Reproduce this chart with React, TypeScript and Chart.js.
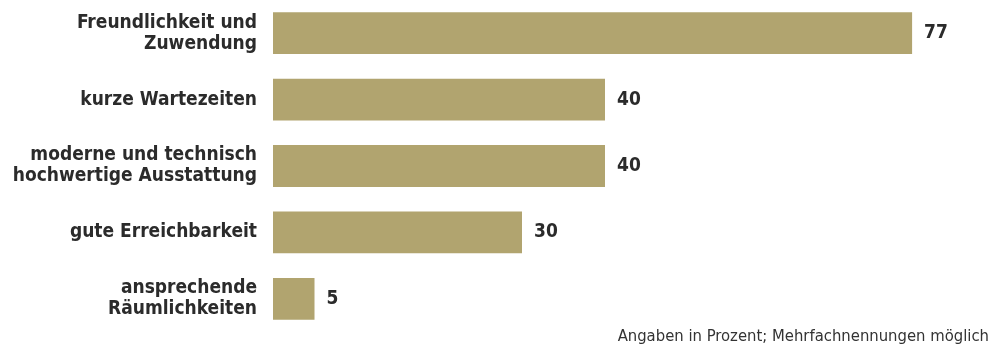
import React, { useEffect, useRef } from "react";
import { Chart, registerables } from "chart.js";

Chart.register(...registerables);

const categories: (string | string[])[] = [
  ["Freundlichkeit und", "Zuwendung"],
  "kurze Wartezeiten",
  ["moderne und technisch", "hochwertige Ausstattung"],
  "gute Erreichbarkeit",
  ["ansprechende", "Räumlichkeiten"],
];
const values: number[] = [77, 40, 40, 30, 5];
const footnote = "Angaben in Prozent; Mehrfachnennungen möglich";

const FONT = "'Liberation Sans Narrow', 'Arial Narrow', 'DejaVu Sans Condensed', sans-serif";
const TEXT = "#2b2b2b";
const BAR = "#b1a46f";

const labelsPlugin = {
  id: "valueLabels",
  afterDatasetsDraw(chart: any) {
    const ctx = chart.ctx;
    const meta = chart.getDatasetMeta(0);
    ctx.save();
    ctx.font = `bold 19px ${FONT}`;
    ctx.fillStyle = TEXT;
    ctx.textAlign = "left";
    ctx.textBaseline = "middle";
    meta.data.forEach((el: any, i: number) => {
      ctx.fillText(String(values[i]), el.x + 12, el.y);
    });
    ctx.font = `16.5px ${FONT}`;
    ctx.fillStyle = "#333";
    ctx.textAlign = "right";
    ctx.textBaseline = "middle";
    ctx.fillText(footnote, chart.width - 4, chart.height - 9);
    ctx.restore();
  },
};

export default function App() {
  const ref = useRef<HTMLCanvasElement>(null);
  useEffect(() => {
    const chart = new Chart(ref.current!, {
      type: "bar",
      data: {
        labels: categories,
        datasets: [
          {
            data: values,
            backgroundColor: BAR,
            borderWidth: 0,
            barPercentage: 0.63,
            categoryPercentage: 1,
          },
        ],
      },
      options: {
        indexAxis: "y",
        animation: false,
        responsive: true,
        maintainAspectRatio: false,
        layout: { padding: { left: 0, right: 56, top: 0, bottom: 14 } },
        plugins: { legend: { display: false }, tooltip: { enabled: false } },
        scales: {
          x: { display: false, min: 0, max: 80 },
          y: {
            grid: { display: false, drawTicks: false },
            border: { display: false },
            ticks: {
              color: TEXT,
              padding: 16,
              font: { family: FONT, size: 19, weight: "bold", lineHeight: 1.1 },
            },
            afterFit(scale: any) {
              scale.width = 273;
              scale.paddingTop = 0;
              scale.paddingBottom = 0;
            },
          },
        },
      },
      plugins: [labelsPlugin],
    });
    return () => chart.destroy();
  }, []);
  return (
    <div style={{ position: "fixed", left: 0, top: 0, width: 993, height: 346, background: "#fff" }}>
      <canvas ref={ref} />
    </div>
  );
}
